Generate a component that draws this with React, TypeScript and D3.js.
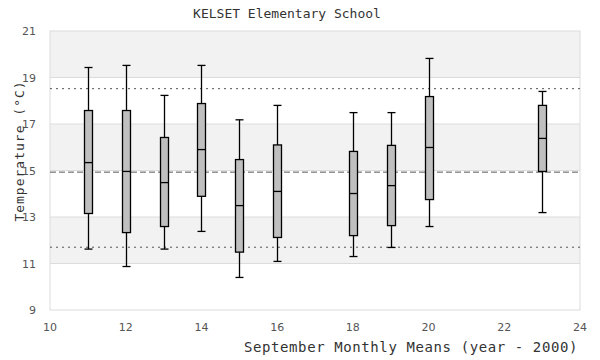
import React from "react";
import * as d3 from "d3";

const years = [11, 12, 13, 14, 15, 16, 18, 19, 20, 23];
const whiskerHigh = [19.43, 19.52, 18.23, 19.52, 17.18, 17.8, 17.49, 17.49, 19.82, 18.4];
const q3 = [17.58, 17.58, 16.42, 17.88, 15.47, 16.1, 15.82, 16.08, 18.18, 17.8];
const medians = [15.34, 14.96, 14.48, 15.9, 13.49, 14.1, 14.01, 14.35, 15.99, 16.38];
const q1 = [13.15, 12.33, 12.59, 13.89, 11.49, 12.12, 12.2, 12.63, 13.75, 14.96];
const whiskerLow = [11.62, 10.87, 11.62, 12.38, 10.4, 11.09, 11.3, 11.69, 12.59, 13.19];

const xTicks = [10, 12, 14, 16, 18, 20, 22, 24];
const yTicks = [9, 11, 13, 15, 17, 19, 21];
const bands = [[19, 21], [15, 17], [11, 13]];
const gridValues = [11, 13, 15, 17, 19];
const meanLine = 14.93;
const upperLine = 18.52;
const lowerLine = 11.7;

const title = "KELSET Elementary School";
const xLabel = "September Monthly Means (year - 2000)";
const yLabel = "Temperature (°C)";

export default function App() {
  const W = 600, H = 360;
  const left = 50, right = 580, top = 31, bottom = 310;
  const x = d3.scaleLinear().domain([10, 24]).range([left, right]);
  const y = d3.scaleLinear().domain([9, 21]).range([bottom, top]);
  const bw = 8;
  const mono = "'DejaVu Sans Mono', monospace";
  const sans = "'DejaVu Sans', sans-serif";

  return (
    <svg width={W} height={H} style={{ position: "absolute", left: 0, top: 0 }}>
      <rect x={0} y={0} width={W} height={H} fill="#fff" />
      {bands.map(([a, b], i) => (
        <rect key={i} x={left} y={y(b)} width={right - left} height={y(a) - y(b)} fill="#f2f2f2" />
      ))}
      {gridValues.map((v) => (
        <line key={v} x1={left} x2={right} y1={y(v)} y2={y(v)} stroke="#dcdcdc" strokeWidth={1} />
      ))}
      <rect x={left} y={top} width={right - left} height={bottom - top} fill="none" stroke="#dcdcdc" strokeWidth={1} />
      <line x1={left} x2={right} y1={y(upperLine)} y2={y(upperLine)} stroke="#555" strokeWidth={1} strokeDasharray="2,4" />
      <line x1={left} x2={right} y1={y(lowerLine)} y2={y(lowerLine)} stroke="#555" strokeWidth={1} strokeDasharray="2,4" />
      <line x1={left} x2={right} y1={y(meanLine)} y2={y(meanLine)} stroke="#555" strokeWidth={1} strokeDasharray="6,3" />
      {years.map((yr, i) => {
        const cx = Math.round(x(yr)) + 0.5;
        return (
          <g key={yr} stroke="#000" strokeWidth={1.3}>
            <line x1={cx} x2={cx} y1={y(whiskerHigh[i])} y2={y(q3[i])} />
            <line x1={cx} x2={cx} y1={y(q1[i])} y2={y(whiskerLow[i])} />
            <line x1={cx - bw / 2} x2={cx + bw / 2} y1={y(whiskerHigh[i])} y2={y(whiskerHigh[i])} />
            <line x1={cx - bw / 2} x2={cx + bw / 2} y1={y(whiskerLow[i])} y2={y(whiskerLow[i])} />
            <rect x={cx - bw / 2} y={y(q3[i])} width={bw} height={y(q1[i]) - y(q3[i])} fill="#bfbfbf" />
            <line x1={cx - bw / 2} x2={cx + bw / 2} y1={y(medians[i])} y2={y(medians[i])} />
          </g>
        );
      })}
      {yTicks.map((v) => (
        <text key={v} x={36} y={y(v) + 4} textAnchor="end" fontFamily={sans} fontSize={11} fill="#555">
          {v}
        </text>
      ))}
      {xTicks.map((v) => (
        <text key={v} x={x(v)} y={331} textAnchor="middle" fontFamily={sans} fontSize={11} fill="#555">
          {v}
        </text>
      ))}
      <text x={287} y={18} textAnchor="middle" fontFamily={mono} fontSize={13} fill="#333">
        {title}
      </text>
      <text x={578} y={352} textAnchor="end" fontFamily={mono} fontSize={14} letterSpacing={0.6} fill="#333">
        {xLabel}
      </text>
      <text
        transform={`translate(24, ${151}) rotate(-90)`}
        textAnchor="middle"
        fontFamily={mono}
        fontSize={13}
        letterSpacing={1}
        fill="#333"
      >
        {yLabel}
      </text>
    </svg>
  );
}
